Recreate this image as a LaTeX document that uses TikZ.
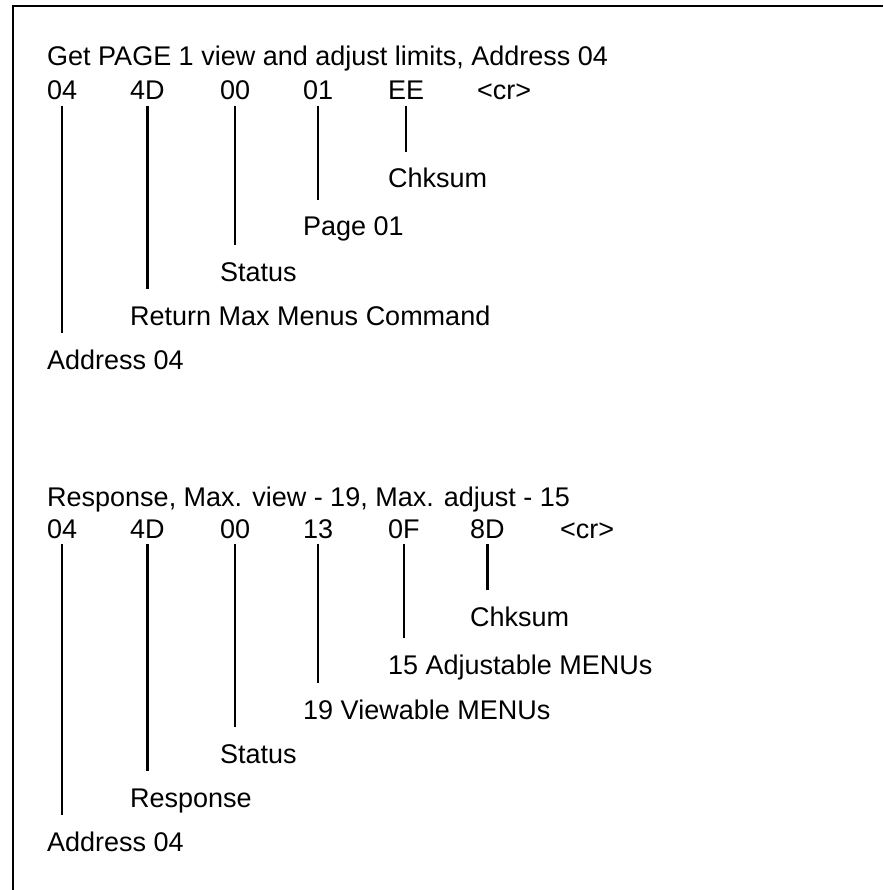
\documentclass[tikz,border=0pt]{standalone}
\usepackage{fontspec}
\setmainfont{Liberation Sans}
\tikzset{
  txt/.style={anchor=base west, inner sep=0pt, font=\fontsize{27}{32}\selectfont, text height=19pt, text depth=0pt},
  lead/.style={line width=2.1pt, shorten <=6pt, shorten >=17pt},
  frame/.style={line width=2.6pt}
}
\begin{document}
\begin{tikzpicture}[x=1pt,y=-1pt]
\useasboundingbox (0,0) rectangle (883,890);
\fill[white] (0,0) rectangle (883,890);
\draw[frame] (13,890) -- (13,6) -- (883,6);

% ---- request ----
\node[txt] (t1) at (47,66) {Get PAGE 1 view and adjust limits, Address 04};
\node[txt] (a1) at (47,99.5) {04};
\node[txt] (b1) at (130,99.5) {4D};
\node[txt] (c1) at (220,99.5) {00};
\node[txt] (d1) at (303,99.5) {01};
\node[txt] (e1) at (388,99.5) {EE};
\node[txt] (f1) at (477,99.5) {<cr>};

\node[txt] (le1) at (388,188) {Chksum};
\node[txt] (ld1) at (303,236) {Page 01};
\node[txt] (lc1) at (220,281) {Status};
\node[txt] (lb1) at (130,325) {Return Max Menus Command};
\node[txt] (la1) at (47,369) {Address 04};

\draw[lead] (a1.south) -- (a1.south |- la1.north);
\draw[lead] (b1.south) -- (b1.south |- lb1.north);
\draw[lead] (c1.south) -- (c1.south |- lc1.north);
\draw[lead] (d1.south) -- (d1.south |- ld1.north);
\draw[lead] (e1.south) -- (e1.south |- le1.north);

% ---- response ----
\node[txt] (t2) at (47,506) {Response, Max. view - 19, Max. adjust - 15};
\node[txt] (a2) at (47,538) {04};
\node[txt] (b2) at (130,538) {4D};
\node[txt] (c2) at (220,538) {00};
\node[txt] (d2) at (303,538) {13};
\node[txt] (e2) at (388,538) {0F};
\node[txt] (g2) at (470,538) {8D};
\node[txt] (f2) at (560,538) {<cr>};

\node[txt] (lg2) at (470,626) {Chksum};
\node[txt] (le2) at (388,674) {15 Adjustable MENUs};
\node[txt] (ld2) at (303,719) {19 Viewable MENUs};
\node[txt] (lc2) at (220,763) {Status};
\node[txt] (lb2) at (130,807) {Response};
\node[txt] (la2) at (47,851) {Address 04};

\draw[lead] (a2.south) -- (a2.south |- la2.north);
\draw[lead] (b2.south) -- (b2.south |- lb2.north);
\draw[lead] (c2.south) -- (c2.south |- lc2.north);
\draw[lead] (d2.south) -- (d2.south |- ld2.north);
\draw[lead] (e2.south) -- (e2.south |- le2.north);
\draw[lead] (g2.south) -- (g2.south |- lg2.north);
\end{tikzpicture}
\end{document}
